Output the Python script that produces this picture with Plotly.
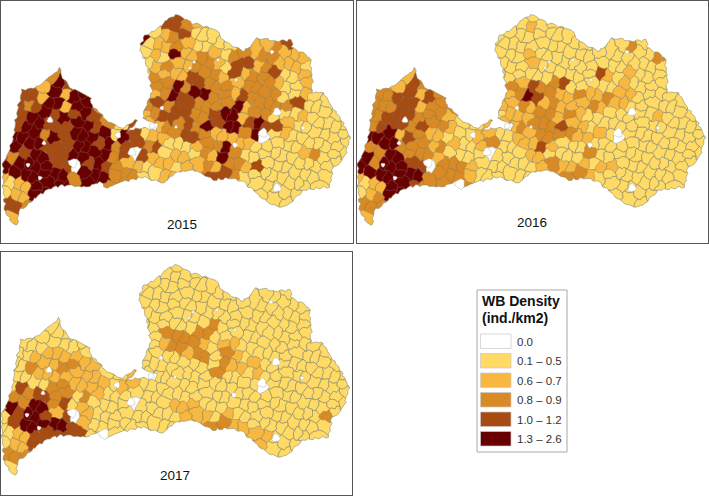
import math
import plotly.graph_objects as go

# ---------- data ----------
CLASS_LABELS = ["0.0", "0.1 – 0.5", "0.6 – 0.7", "0.8 – 0.9", "1.0 – 1.2", "1.3 – 2.6"]
CLASS_COLORS = ["#ffffff", "#ffdb66", "#f8b83f", "#d98a24", "#a84b12", "#690000"]
CLASS_LINES = ["#b5b5b0", "#8c8c70", "#9a8a60", "#a5803f", "#8f5a30", "#7a3535"]
YEARS = ["2015", "2016", "2017"]

ROW_Y = [15 + 10 * k for k in range(21)]

D2015 = [
    "................44",
    "................4432",
    "..............51234111",
    "..............122321111...234",
    "..............12152232133233222",
    "..............12322332144232221",
    ".....3........13222433242334112",
    "....254........3353433323332112",
    "..4425255......23545533243331121",
    ".434552553....3434433335233334111",
    ".445545454....23444334552331112111",
    ".45544455431..223343545545442111111",
    ".5553545555154122344322235012111111",
    ".555444554534434111233522" + "1" * 10,
    "434554455553404212213253111111" + "23111",
    "5555544045432212212232332" + "4" + "11111111.",
    "255555535553331122...443111111111..",
    "1225555.5.3..............1111111...",
    "12255.....................1111.....",
    "443.........................1......",
    ".2",
]
D2016 = [
    "................11",
    "................1211",
    "..............11111111",
    "..............111111111...131",
    "..............11121111111111113",
    "..............11121111111111111",
    ".....2........11111111114212111",
    "....243........3243341111121111",
    "..3344243......23543223223221111",
    ".333442333....2232232223222111111",
    ".334443332....12223323211111112111",
    ".34443433211..223333422111111111111",
    ".5552432211122112233332221" + "0" + "11111111",
    ".355333232112311224211" + "1" * 13,
    "553553332111101" + "1122111131" + "1111111111",
    "535554403332111111" + "23222122" + "11111111.",
    "255555533332111111...332111111111..",
    "1225543.3.3..............1111111...",
    "12355.....................1111.....",
    "333.........................1......",
    ".2",
]
D2017 = [
    "................11",
    "................1111",
    "..............11111111",
    "..............111111111...111",
    "..............11111111111111111",
    "..............11111111111111111",
    ".....1........11111113111111111",
    "....111........1333331111111111",
    "..1111111......12333212211111111",
    ".112222211....1111233132111111111",
    ".113223322....11111111322211111111",
    ".11222222211..111111131112111111111",
    ".1411332222122" + "111111111111" + "0" + "11111111",
    ".3344331321111" + "1" * 21,
    "353553412111101" + "11222111111111111111",
    "145542402111111111" + "22212111" + "11111131.",
    "145555542111111111...332211111111..",
    "12244444.1.1.............2211111...",
    "12244.....................2111.....",
    "333.........................1......",
    ".1",
]
YEAR_ROWS = [D2015, D2016, D2017]

OUTLINE_X = [60, 62, 70, 80, 90, 92, 100, 108, 114, 122, 130, 138, 136, 128, 140, 150, 156, 158, 150, 144,
             143, 148, 152, 148, 146, 140, 143, 153, 167, 177, 192, 217, 225, 245, 251, 258, 275, 292, 292,
             310, 312, 312, 322, 338, 350, 345, 332, 330, 303, 292, 282, 268, 245, 232, 213, 195, 178, 163,
             143, 120, 107, 100, 87, 63, 50, 30, 18, 17, 12, 5, 4, 3, 3, 7, 13, 17, 22, 33, 43]
OUTLINE_Y = [68, 78, 87, 92, 97, 105, 113, 122, 125, 129, 124, 119, 123, 131, 128, 129, 131, 123, 122, 118,
             113, 103, 90, 72, 63, 50, 37, 32, 20, 15, 23, 30, 42, 52, 44, 38, 41, 40, 48,
             57, 77, 93, 92, 115, 137, 157, 170, 187, 190, 202, 207, 203, 183, 178, 180, 170, 172, 183,
             177, 182, 188, 182, 187, 185, 188, 202, 213, 225, 223, 212, 192, 183, 163, 155, 140, 113, 90, 88, 83]

HOLE_X = [73, 50, 44, 28, 40, 132, 118, 263, 277, 277, 162, 152, 194, 190, 218, 272, 176, 235, 303, 236]
HOLE_Y = [163, 120, 143, 165, 178, 152, 135, 133, 112, 188, 108, 126, 62, 68, 60, 52, 127, 145, 128, 80]
HOLE_R = [4.5, 3, 2, 2, 2, 4, 3, 4.5, 4, 4, 2, 3, 1.5, 1.5, 1.5, 2, 1.5, 2.5, 2, 1.5]
EXTRA_HOLE = {"2016": (105, 184, 5), "2017": (105, 184, 5)}

# ---------- layout, in page pixels ----------
W, H = 709, 497
FRAMES = [(1, 353, 1, 243), (357, 708, 1, 243), (1, 352, 252, 495)]
ORIGINS = [(0, 0), (355, 0), (-1, 250)]
YEAR_POS = [(182, 225), (177, 222), (176, 225)]
JX = [-2.5, 1.5, 3, -1, 2, -3, 0.5]
JY = [1.5, -2.5, 0.5, 3, -1.5, 2, -3]
BOX = 22


def clip(poly, ax, ay, bx, by):
    """Keep the part of a convex poly nearer to a than to b."""
    mx, my = (ax + bx) / 2, (ay + by) / 2
    nx, ny = bx - ax, by - ay
    out = []
    n = len(poly)
    for k in range(n):
        p, q = poly[k], poly[(k + 1) % n]
        dp = (p[0] - mx) * nx + (p[1] - my) * ny
        dq = (q[0] - mx) * nx + (q[1] - my) * ny
        if dp <= 0:
            out.append(p)
        if (dp < 0 < dq) or (dq < 0 < dp):
            t = dp / (dp - dq)
            out.append((p[0] + t * (q[0] - p[0]), p[1] + t * (q[1] - p[1])))
    return out


def warp(x, y):
    return (x + 0.9 * math.sin(0.83 * y + 0.31 * x) + 0.5 * math.sin(1.9 * y - 0.7 * x),
            y + 0.9 * math.sin(0.79 * x - 0.27 * y) + 0.5 * math.sin(1.7 * x + 0.9 * y))


def wiggle(poly):
    out = []
    n = len(poly)
    for k in range(n):
        p, q = poly[k], poly[(k + 1) % n]
        m = max(1, int(math.hypot(q[0] - p[0], q[1] - p[1]) / 2.5))
        for t in range(m):
            out.append(warp(p[0] + (q[0] - p[0]) * t / m, p[1] + (q[1] - p[1]) * t / m))
    return out


def seeds_for(rows):
    res = []
    for j, row in enumerate(rows):
        for i, ch in enumerate(row):
            if ch == ".":
                continue
            s = (i * 3 + j * 5) % 7
            res.append((5 + 10 * i + (2.5 if j % 2 else -1) + JX[s], ROW_Y[j] + JY[s], int(ch)))
    return res


def cells_for(rows):
    seeds = seeds_for(rows)
    by_class = {c: ([], []) for c in range(6)}
    for a in seeds:
        others = sorted((b for b in seeds if b is not a),
                        key=lambda b: (b[0] - a[0]) ** 2 + (b[1] - a[1]) ** 2)[:30]
        poly = [(a[0] - BOX, a[1] - BOX), (a[0] + BOX, a[1] - BOX),
                (a[0] + BOX, a[1] + BOX), (a[0] - BOX, a[1] + BOX)]
        for b in others:
            poly = clip(poly, a[0], a[1], b[0], b[1])
        pts = wiggle(poly)
        pts.append(pts[0])
        by_class[a[2]][0].extend([p[0] for p in pts] + [None])
        by_class[a[2]][1].extend([p[1] for p in pts] + [None])
    return by_class


def ring(x, y, r):
    n = 9
    xs, ys = [], []
    for k in range(n + 1):
        a = 2 * math.pi * (k % n) / n
        f = 1 + 0.18 * math.sin(3 * a + x)
        xs.append(x + r * f * math.cos(a))
        ys.append(y + r * f * math.sin(a))
    return xs + [None], ys + [None]


border = wiggle(list(zip(OUTLINE_X, OUTLINE_Y)))
border.append(border[0])
border_x = [p[0] for p in border]
border_y = [p[1] for p in border]
mask_x = border_x + [border_x[0], -40, -40, 420, 420, border_x[0], border_x[0]]
mask_y = border_y + [-40, -40, 300, 300, -40, -40, border_y[0]]

fig = go.Figure()
layout = {}
annotations = []
shapes = []


def area(x, y, fill, color, width, xa, ya):
    fig.add_trace(go.Scatter(x=x, y=y, mode="lines", fill="toself" if fill else "none", fillcolor=fill,
                             line=dict(color=color, width=width), hoverinfo="skip",
                             showlegend=False, xaxis=xa, yaxis=ya))


for idx, (year, rows) in enumerate(zip(YEARS, YEAR_ROWS)):
    L, R, T, B = FRAMES[idx]
    ox, oy = ORIGINS[idx]
    suffix = "" if idx == 0 else str(idx + 1)
    xa, ya = "x" + suffix, "y" + suffix
    cells = cells_for(rows)
    for c in [1, 2, 3, 4, 5, 0]:
        xs, ys = cells[c]
        if xs:
            area(xs, ys, CLASS_COLORS[c], CLASS_LINES[c], 0.5, xa, ya)
    area(mask_x, mask_y, "#ffffff", "rgba(0,0,0,0)", 0, xa, ya)
    area(border_x, border_y, None, "#8c8c70", 0.6, xa, ya)
    hx, hy = [], []
    for x, y, r in zip(HOLE_X, HOLE_Y, HOLE_R):
        a, b = ring(x, y, r)
        hx += a
        hy += b
    if year in EXTRA_HOLE:
        a, b = ring(*EXTRA_HOLE[year])
        hx += a
        hy += b
    area(hx, hy, "#ffffff", "#b5b5b0", 0.5, xa, ya)
    axis = dict(showgrid=False, zeroline=False, showticklabels=False, ticks="", showline=True,
                mirror=True, linecolor="#555555", linewidth=1.3, fixedrange=True)
    layout["xaxis" + suffix] = dict(axis, domain=[L / W, R / W], range=[L - ox, R - ox], anchor=ya)
    layout["yaxis" + suffix] = dict(axis, domain=[1 - B / H, 1 - T / H], range=[B - oy, T - oy], anchor=xa)
    px, py = YEAR_POS[idx]
    annotations.append(dict(x=(px + ox) / W, y=1 - (py + oy) / H, xref="paper", yref="paper", text=year,
                            xanchor="center", yanchor="middle", showarrow=False,
                            font=dict(family="Liberation Sans", size=13.5, color="#111111")))

# legend drawn in page coordinates
shapes.append(dict(type="rect", xref="paper", yref="paper", x0=477 / W, x1=567 / W, y0=1 - 452 / H, y1=1 - 290 / H,
                   line=dict(color="#a8a8a8", width=1), fillcolor="#ffffff"))
for text, top in (("<b>WB Density</b>", 301), ("<b>(ind./km2)</b>", 318)):
    annotations.append(dict(x=480 / W, y=1 - top / H, xref="paper", yref="paper", xanchor="left", yanchor="middle",
                            showarrow=False, text=text,
                            font=dict(family="Liberation Sans", size=14, color="#111111")))
SWATCH_TOPS = [334, 353.5, 373, 392.5, 412, 431.5]
for top, label, color in zip(SWATCH_TOPS, CLASS_LABELS, CLASS_COLORS):
    shapes.append(dict(type="rect", xref="paper", yref="paper", x0=480.5 / W, x1=511 / W,
                       y0=1 - (top + 14.5) / H, y1=1 - top / H,
                       line=dict(color="#c8c8c8", width=0.7), fillcolor=color))
    annotations.append(dict(x=515 / W, y=1 - (top + 7.5) / H, xref="paper", yref="paper", xanchor="left",
                            yanchor="middle", showarrow=False, text=label,
                            font=dict(family="Liberation Sans", size=11.5, color="#333333")))

fig.update_layout(width=W, height=H, margin=dict(l=0, r=0, t=0, b=0), paper_bgcolor="white",
                  plot_bgcolor="white", showlegend=False, annotations=annotations, shapes=shapes, **layout)
fig.write_html("out.html", config={"displayModeBar": False}, post_script="document.body.style.margin='0';")
